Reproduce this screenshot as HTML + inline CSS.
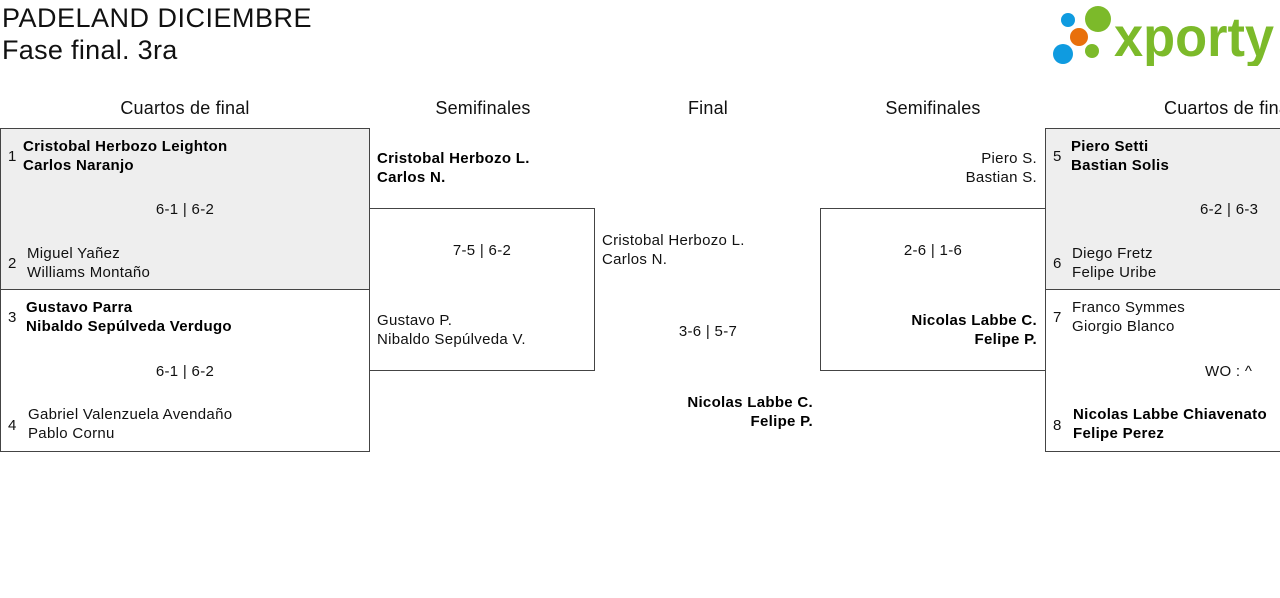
<!DOCTYPE html>
<html><head><meta charset="utf-8"><style>
*{margin:0;padding:0;box-sizing:border-box}
body{width:1280px;height:598px;background:#fff;position:relative;overflow:hidden;font-family:"Liberation Sans","DejaVu Sans",sans-serif;color:#111}
.a{position:absolute;white-space:nowrap}
.t{font-size:15px;line-height:19px;letter-spacing:0.3px;margin-top:1px}
.b{font-weight:bold;color:#000}
.h{font-size:18px;line-height:22px;text-align:center;width:300px;letter-spacing:0.2px;margin-top:1px}
.box{position:absolute;border:1px solid #444}
.r{text-align:right}
</style></head><body>
<div class="a" style="left:2px;top:2px;font-size:27px;line-height:32px;letter-spacing:0.5px">PADELAND DICIEMBRE</div>
<div class="a" style="left:2px;top:34px;font-size:27px;line-height:32px;letter-spacing:0.3px">Fase final. 3ra</div>

<svg class="a" style="left:1050px;top:4px" width="226" height="62">
<circle cx="18" cy="16" r="7" fill="#0f9be0"/>
<circle cx="48" cy="15" r="13" fill="#7cba2a"/>
<circle cx="29" cy="33" r="9" fill="#e8700c"/>
<circle cx="13" cy="50" r="10" fill="#0f9be0"/>
<circle cx="42" cy="47" r="7" fill="#7cba2a"/>
<text x="64" y="52" font-family="Liberation Sans,sans-serif" font-weight="bold" font-size="56" fill="#7cba2a" textLength="160" lengthAdjust="spacingAndGlyphs">xporty</text>
</svg>

<div class="a h" style="left:35px;top:96px">Cuartos de final</div>
<div class="a h" style="left:333px;top:96px">Semifinales</div>
<div class="a h" style="left:558px;top:96px">Final</div>
<div class="a h" style="left:783px;top:96px">Semifinales</div>
<div class="a" style="left:1164px;top:97px;font-size:18px;line-height:22px;letter-spacing:0.2px">Cuartos de final</div>

<!-- left QF -->
<div class="box" style="left:0;top:128px;width:370px;height:162px;background:#eee"></div>
<div class="box" style="left:0;top:289px;width:370px;height:163px"></div>
<div class="a t" style="left:8px;top:146px">1</div>
<div class="a t b" style="left:23px;top:136px">Cristobal Herbozo Leighton<br>Carlos Naranjo</div>
<div class="a t" style="left:0;width:370px;text-align:center;top:199px">6-1 | 6-2</div>
<div class="a t" style="left:8px;top:253px">2</div>
<div class="a t" style="left:27px;top:243px">Miguel Yañez<br>Williams Montaño</div>
<div class="a t" style="left:8px;top:307px">3</div>
<div class="a t b" style="left:26px;top:297px">Gustavo Parra<br>Nibaldo Sepúlveda Verdugo</div>
<div class="a t" style="left:0;width:370px;text-align:center;top:361px">6-1 | 6-2</div>
<div class="a t" style="left:8px;top:415px">4</div>
<div class="a t" style="left:28px;top:404px">Gabriel Valenzuela Avendaño<br>Pablo Cornu</div>

<!-- left semi -->
<div class="box" style="left:369px;top:208px;width:226px;height:163px"></div>
<div class="a t b" style="left:377px;top:148px">Cristobal Herbozo L.<br>Carlos N.</div>
<div class="a t" style="left:369px;width:226px;text-align:center;top:240px">7-5 | 6-2</div>
<div class="a t" style="left:377px;top:310px">Gustavo P.<br>Nibaldo Sepúlveda V.</div>

<!-- final -->
<div class="a t" style="left:602px;top:230px">Cristobal Herbozo L.<br>Carlos N.</div>
<div class="a t" style="left:608px;width:200px;text-align:center;top:321px">3-6 | 5-7</div>
<div class="a t b r" style="right:467px;top:392px">Nicolas Labbe C.<br>Felipe P.</div>

<!-- right semi -->
<div class="box" style="left:820px;top:208px;width:226px;height:163px"></div>
<div class="a t r" style="right:243px;top:148px">Piero S.<br>Bastian S.</div>
<div class="a t" style="left:833px;width:200px;text-align:center;top:240px">2-6 | 1-6</div>
<div class="a t b r" style="right:243px;top:310px">Nicolas Labbe C.<br>Felipe P.</div>

<!-- right QF -->
<div class="box" style="left:1045px;top:128px;width:260px;height:162px;background:#eee"></div>
<div class="box" style="left:1045px;top:289px;width:260px;height:163px"></div>
<div class="a t" style="left:1053px;top:146px">5</div>
<div class="a t b" style="left:1071px;top:136px">Piero Setti<br>Bastian Solis</div>
<div class="a t" style="left:1200px;top:199px">6-2 | 6-3</div>
<div class="a t" style="left:1053px;top:253px">6</div>
<div class="a t" style="left:1072px;top:243px">Diego Fretz<br>Felipe Uribe</div>
<div class="a t" style="left:1053px;top:307px">7</div>
<div class="a t" style="left:1072px;top:297px">Franco Symmes<br>Giorgio Blanco</div>
<div class="a t" style="left:1205px;top:361px">WO : ^</div>
<div class="a t" style="left:1053px;top:415px">8</div>
<div class="a t b" style="left:1073px;top:404px">Nicolas Labbe Chiavenato<br>Felipe Perez</div>
</body></html>
